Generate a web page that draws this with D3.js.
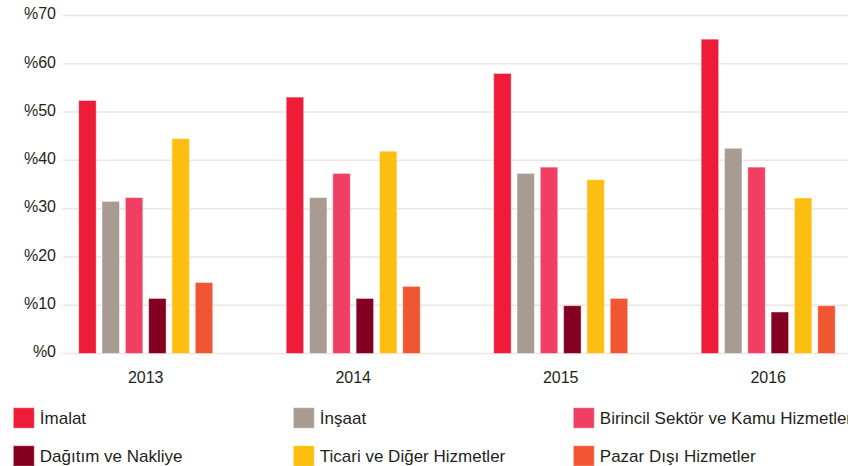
<!DOCTYPE html>
<html>
<head>
<meta charset="utf-8">
<script src="https://cdn.jsdelivr.net/npm/d3@7"></script>
<style>
  body { margin: 0; background: #fff; }
  text { font-family: Arial, "Liberation Sans", sans-serif; fill: #231f20; }
</style>
</head>
<body>
<div id="chart"></div>
<script>
  var svgWidth = 848;
  var svgHeight = 466;

  // data
  var years = ["2013", "2014", "2015", "2016"];
  var sectors = ["İmalat", "İnşaat", "Birincil Sektör ve Kamu Hizmetler",
    "Dağıtım ve Nakliye", "Ticari ve Diğer Hizmetler", "Pazar Dışı Hizmetler"];
  var imalat = [52.4, 53.1, 58.0, 65.1];
  var insaat = [31.5, 32.3, 37.3, 42.5];
  var birincil = [32.3, 37.3, 38.6, 38.6];
  var dagitim = [11.4, 11.4, 9.9, 8.6];
  var ticari = [44.5, 41.9, 36.0, 32.2];
  var pazar = [14.7, 13.9, 11.4, 9.9];
  var yTicks = [0, 10, 20, 30, 40, 50, 60, 70];
  var colors = ["#ee1c39", "#a89b91", "#f03f62", "#840020", "#fdbe12", "#f15632"];

  var series = [imalat, insaat, birincil, dagitim, ticari, pazar];

  var svg = d3.select("#chart")
    .append("svg")
    .attr("width", svgWidth)
    .attr("height", svgHeight);

  // scales
  var x0 = d3.scaleBand()
    .domain(years)
    .range([78.7, 835.2])
    .paddingInner(0.354)
    .paddingOuter(0);

  var x1 = d3.scaleBand()
    .domain(d3.range(sectors.length))
    .range([0, x0.bandwidth()])
    .paddingInner(0.25);

  var y = d3.scaleLinear()
    .domain([0, 70])
    .range([353.5, 15.5]);

  // grid lines
  svg.append("g")
    .selectAll("line")
    .data(yTicks)
    .enter()
    .append("line")
    .attr("x1", 63)
    .attr("x2", svgWidth)
    .attr("y1", d => y(d))
    .attr("y2", d => y(d))
    .attr("stroke", "#ebe6e3")
    .attr("stroke-width", 1.5);

  // y tick labels
  svg.append("g")
    .selectAll("text")
    .data(yTicks)
    .enter()
    .append("text")
    .attr("x", 56)
    .attr("y", d => y(d))
    .attr("dy", "0.24em")
    .attr("text-anchor", "end")
    .style("font-size", "16px")
    .text(d => "%" + d);

  // bars
  var groups = svg.append("g")
    .selectAll("g")
    .data(years)
    .enter()
    .append("g")
    .attr("transform", d => `translate(${x0(d)},0)`);

  groups.selectAll("rect")
    .data((d, i) => series.map((s, j) => ({ k: j, v: s[i] })))
    .enter()
    .append("rect")
    .attr("x", d => x1(d.k))
    .attr("width", x1.bandwidth())
    .attr("y", d => y(d.v))
    .attr("height", d => y(0) - y(d.v))
    .attr("fill", d => colors[d.k])
    .attr("stroke", "#fff")
    .attr("stroke-opacity", 0.45)
    .attr("stroke-width", 1);

  // year labels
  svg.append("g")
    .selectAll("text")
    .data(years)
    .enter()
    .append("text")
    .attr("x", d => x0(d) + x0.bandwidth() / 2)
    .attr("y", 383)
    .attr("text-anchor", "middle")
    .style("font-size", "16px")
    .text(d => d);

  // legend (3 columns, 2 rows)
  var legendX = [13.3, 293.3, 573.3];
  var legendY = [407.7, 445.7];

  var legend = svg.append("g")
    .selectAll("g")
    .data(sectors)
    .enter()
    .append("g")
    .attr("transform", (d, i) => `translate(${legendX[i % 3]},${legendY[Math.floor(i / 3)]})`);

  legend.append("rect")
    .attr("width", 21)
    .attr("height", 20.5)
    .attr("fill", (d, i) => colors[i])
    .attr("stroke", "#fff")
    .attr("stroke-opacity", 0.45);

  legend.append("text")
    .attr("x", 26.5)
    .attr("y", 16.5)
    .style("font-size", "17px")
    .text(d => d);
</script>
</body>
</html>
